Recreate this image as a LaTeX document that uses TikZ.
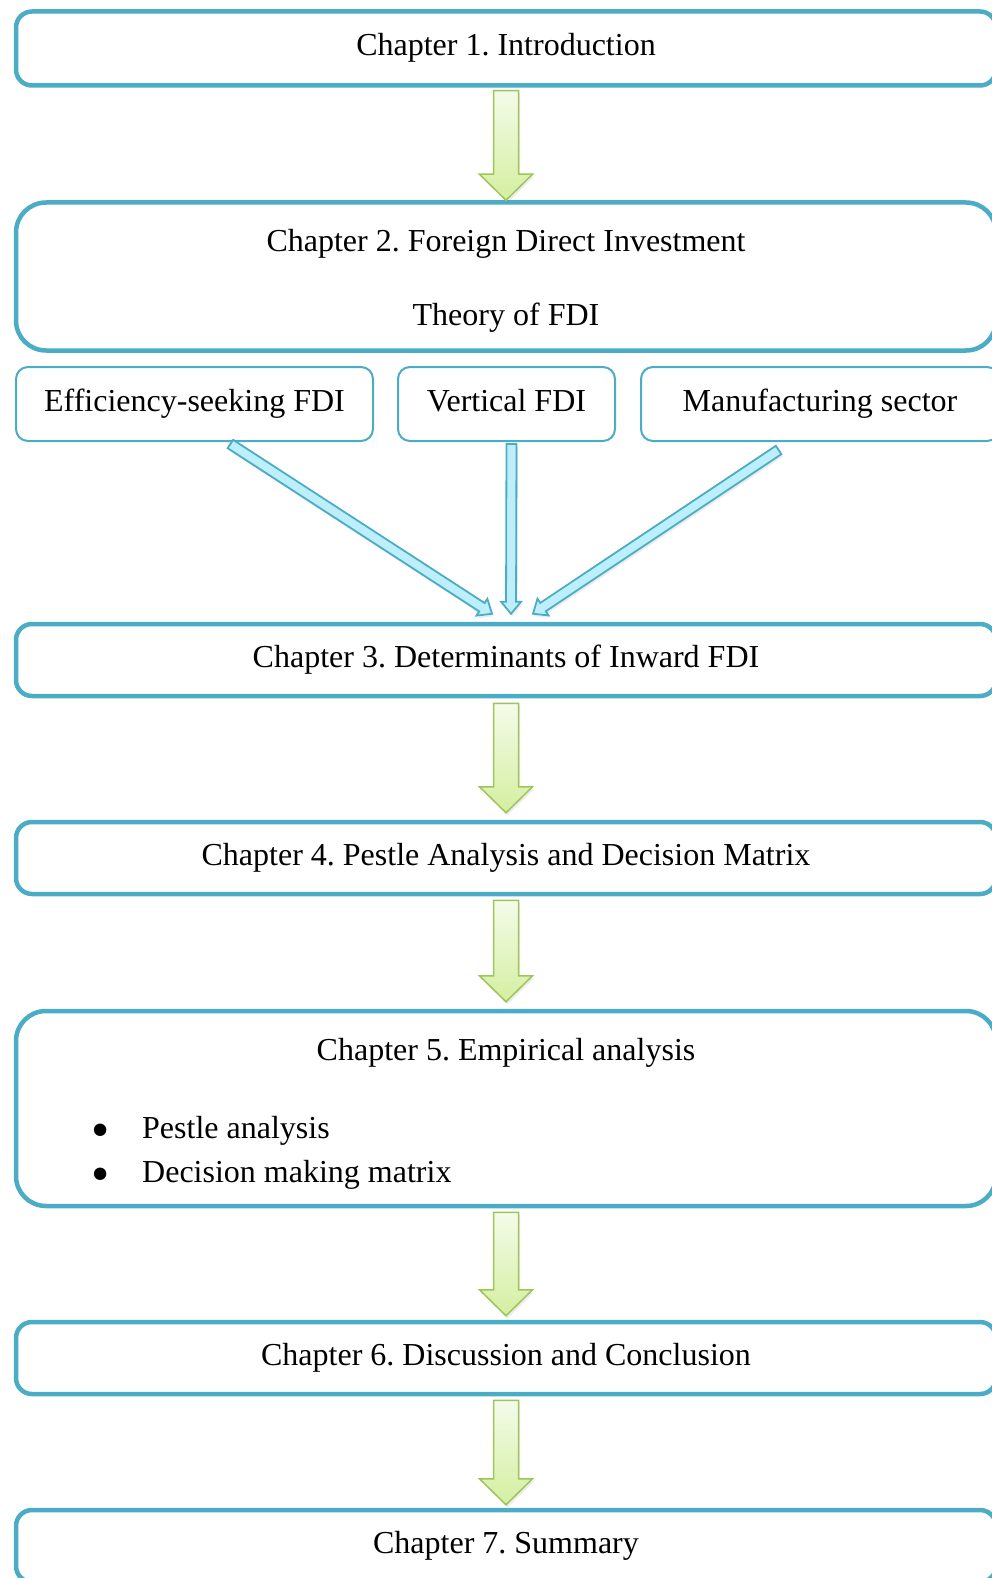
\documentclass[tikz,border=0pt]{standalone}
\usepackage{fontspec}
\setmainfont{Liberation Serif}
\usetikzlibrary{calc,shadows}
\definecolor{boxblue}{HTML}{4BACC6}
\definecolor{arrfill}{HTML}{BDEFFB}
\definecolor{gborder}{HTML}{9FC55A}
\definecolor{gtop}{HTML}{F4FBEA}
\definecolor{gbot}{HTML}{D4EFA0}
\frenchspacing
\newcommand\blockarrow[6]{%
  \coordinate (ba) at #2;
  \coordinate (bb) at #3;
  \coordinate (bh) at ($(bb)!#6pt!(ba)$);
  \draw[#1] ($(ba)!#4pt!90:(bb)$) -- ($(bh)!#4pt!90:(bb)$) -- ($(bh)!#5pt!90:(bb)$) -- (bb)
     -- ($(bh)!#5pt!-90:(bb)$) -- ($(bh)!#4pt!-90:(bb)$) -- ($(ba)!#4pt!-90:(bb)$) -- cycle;}
\begin{document}
\begin{tikzpicture}[x=1pt,y=1pt,
  font=\fontsize{32}{38}\selectfont,
  every node/.style={text height=22pt, text depth=7pt},
  bigbox/.style={draw=boxblue, line width=4.5pt, rounded corners=16pt, minimum width=980pt, fill=white, inner sep=0pt},
  smallbox/.style={draw=boxblue, line width=2pt, rounded corners=12pt, minimum height=74pt, fill=white, inner sep=0pt},
  txt/.style={inner sep=0pt},
  bul/.style={inner sep=0pt, font=\fontsize{52}{52}\selectfont, text height=, text depth=},
  garrow/.style={draw=gborder, line width=1.5pt, top color=gtop, bottom color=gbot, line join=miter,
     drop shadow={opacity=0.15, shadow xshift=1.5pt, shadow yshift=-2.5pt}},
  barrow/.style={draw=boxblue, line width=1.8pt, fill=arrfill, line join=miter,
     drop shadow={opacity=0.15, shadow xshift=1.5pt, shadow yshift=-2.5pt}}]
\useasboundingbox (0,0) rectangle (992,-1578);
\clip (0,0) rectangle (992,-1578);

\node[bigbox, minimum height=74pt] (c1) at (506,-48.5) {Chapter 1. Introduction};
\node[bigbox, rounded corners=30pt, minimum height=148pt] (c2) at (506,-276.5) {};
\node[txt] (c2a) at (506,-244.5) {Chapter 2. Foreign Direct Investment};
\node[txt] (c2b) at (506,-318.5) {Theory of FDI};

\node[smallbox, minimum width=357pt] (sa) at (194.5,-404) {Efficiency-seeking FDI};
\node[smallbox, minimum width=217pt] (sb) at (506.5,-404) {Vertical FDI};
\node[smallbox, minimum width=358pt] (sc) at (820,-404) {Manufacturing sector};

\node[bigbox, minimum height=72pt] (c3) at (506,-660) {Chapter 3. Determinants of Inward FDI};
\node[bigbox, minimum height=72pt] (c4) at (506,-858) {Chapter 4. Pestle Analysis and Decision Matrix};
\node[bigbox, rounded corners=30pt, minimum height=195pt] (c5) at (506,-1108.5) {};
\node[txt] (c5a) at (506,-1052.5) {Chapter 5. Empirical analysis};
\node[bul] (b1) at (101,-1136) {\textbullet};
\node[txt, anchor=west] (i1) at (142,-1130.5) {Pestle analysis};
\node[bul] (b2) at (101,-1180) {\textbullet};
\node[txt, anchor=west] (i2) at (142,-1174.5) {Decision making matrix};
\node[bigbox, minimum height=72pt] (c6) at (506,-1358) {Chapter 6. Discussion and Conclusion};
\node[bigbox, minimum height=72pt] (c7) at (506,-1546) {Chapter 7. Summary};

\blockarrow{garrow}{($(c1.south)+(0,-3)$)}{(c2.north)}{12.5}{26.5}{26}
\blockarrow{garrow}{($(c3.south)+(0,-5)$)}{($(c4.north)+(0,7)$)}{12.5}{26.5}{26}
\blockarrow{garrow}{($(c4.south)+(0,-4)$)}{($(c5.north)+(0,7)$)}{12.5}{26.5}{26}
\blockarrow{garrow}{($(c5.south)+(0,-4)$)}{($(c6.north)+(0,4)$)}{12.5}{26.5}{26}
\blockarrow{garrow}{($(c6.south)+(0,-4)$)}{($(c7.north)+(0,3)$)}{12.5}{26.5}{26}

\blockarrow{barrow}{($(sa.south west)!0.6!(sa.south east)+(0,-2)$)}{($(c3.north)+(-14,8)$)}{5}{10}{12}
\blockarrow{barrow}{($(sb.south)+(5,-2)$)}{($(c3.north)+(5,8)$)}{5}{10}{12}
\blockarrow{barrow}{($(sc.south west)!0.385!(sc.south east)+(0,-8)$)}{($(c3.north)+(27,8)$)}{5}{10}{12}
\end{tikzpicture}
\end{document}
